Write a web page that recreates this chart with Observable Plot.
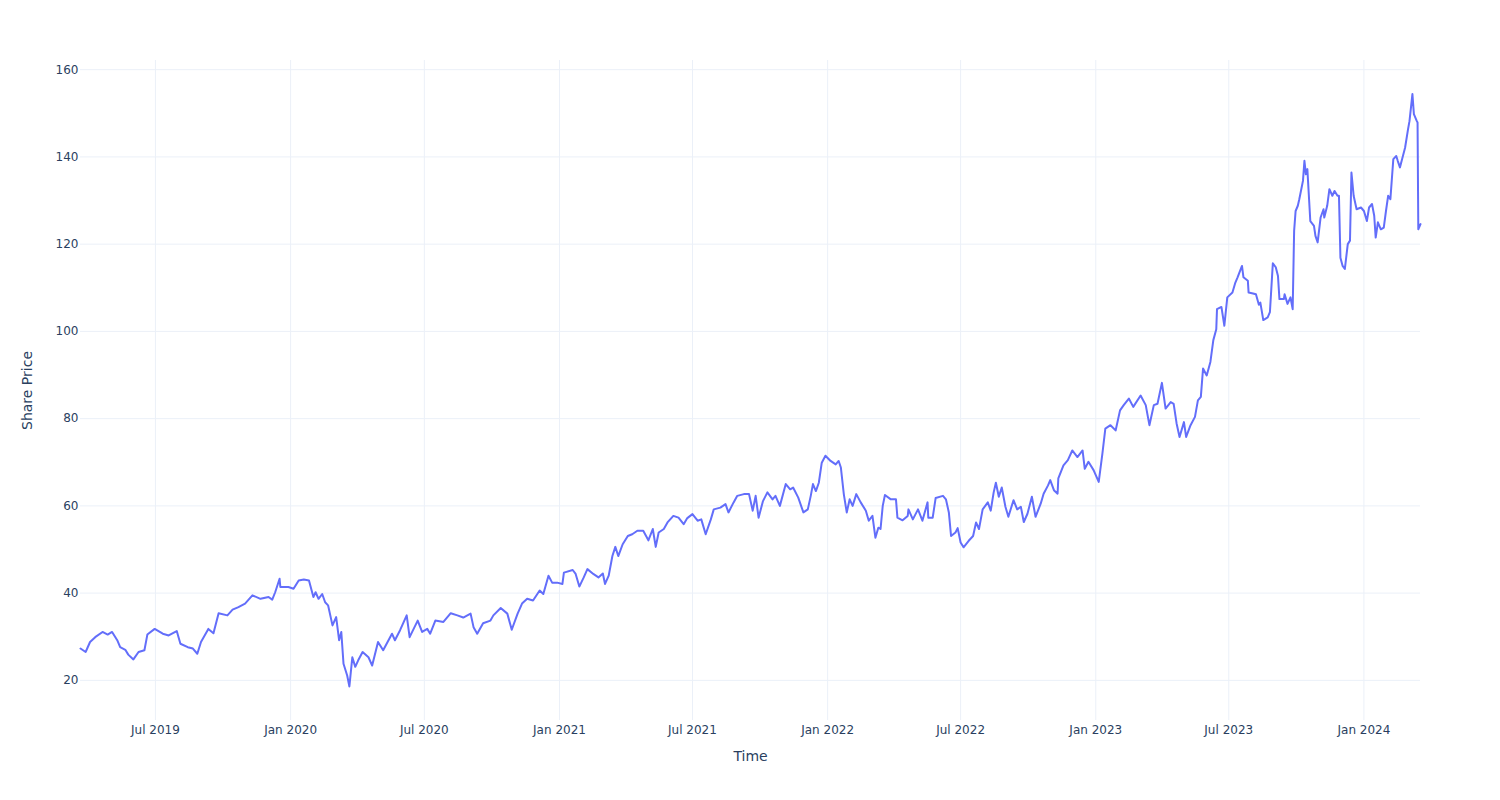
<!DOCTYPE html>
<html>
<head>
<meta charset="utf-8">
<script src="https://cdn.jsdelivr.net/npm/d3@7"></script>
<script src="https://cdn.jsdelivr.net/npm/@observablehq/plot@0.6"></script>
<style>
  html, body { margin: 0; padding: 0; background: #fff; }
  #chart svg { display: block; }
  #chart [aria-label="x-axis label"] text,
  #chart [aria-label="y-axis label"] text { font-size: 14px; }
</style>
</head>
<body>
<div id="chart"></div>
<script>
const dates = [
  "2019-03-21","2019-03-28","2019-04-03","2019-04-10","2019-04-20","2019-04-27","2019-05-03","2019-05-10","2019-05-14","2019-05-21",
  "2019-05-25","2019-06-01","2019-06-08","2019-06-16","2019-06-20","2019-06-30","2019-07-11","2019-07-19","2019-07-30","2019-08-04",
  "2019-08-14","2019-08-21","2019-08-27","2019-09-01","2019-09-11","2019-09-18","2019-09-25","2019-10-07","2019-10-14","2019-10-22",
  "2019-10-31","2019-11-10","2019-11-21","2019-12-02","2019-12-07","2019-12-11","2019-12-17","2019-12-18","2019-12-29","2020-01-05",
  "2020-01-12","2020-01-19","2020-01-26","2020-02-01","2020-02-04","2020-02-08","2020-02-13","2020-02-17","2020-02-21","2020-02-27",
  "2020-03-03","2020-03-07","2020-03-10","2020-03-13","2020-03-18","2020-03-21","2020-03-25","2020-03-29","2020-04-02","2020-04-08",
  "2020-04-16","2020-04-21","2020-04-29","2020-05-06","2020-05-18","2020-05-22","2020-05-29","2020-06-07","2020-06-11","2020-06-22",
  "2020-06-28","2020-07-05","2020-07-09","2020-07-16","2020-07-27","2020-08-06","2020-08-15","2020-08-23","2020-09-02","2020-09-06",
  "2020-09-11","2020-09-19","2020-09-29","2020-10-03","2020-10-13","2020-10-22","2020-10-28","2020-11-05","2020-11-11","2020-11-18",
  "2020-11-26","2020-12-05","2020-12-10","2020-12-17","2020-12-22","2020-12-29","2021-01-05","2021-01-07","2021-01-19","2021-01-23",
  "2021-01-28","2021-02-03","2021-02-08","2021-02-16","2021-02-23","2021-03-01","2021-03-04","2021-03-09","2021-03-14","2021-03-18",
  "2021-03-22","2021-03-28","2021-04-04","2021-04-10","2021-04-17","2021-04-25","2021-05-02","2021-05-08","2021-05-12","2021-05-16",
  "2021-05-23","2021-05-28","2021-06-05","2021-06-12","2021-06-19","2021-06-24","2021-07-01","2021-07-08","2021-07-13","2021-07-19",
  "2021-07-26","2021-07-30","2021-08-08","2021-08-15","2021-08-19","2021-08-26","2021-08-31","2021-09-09","2021-09-16","2021-09-21",
  "2021-09-25","2021-09-29","2021-10-05","2021-10-11","2021-10-18","2021-10-22","2021-10-28","2021-11-05","2021-11-11","2021-11-15",
  "2021-11-22","2021-11-29","2021-12-05","2021-12-09","2021-12-12","2021-12-16","2021-12-20","2021-12-24","2021-12-29","2022-01-05",
  "2022-01-12","2022-01-16","2022-01-19","2022-01-23","2022-01-27","2022-01-31","2022-02-04","2022-02-09","2022-02-15","2022-02-22",
  "2022-02-26","2022-03-03","2022-03-07","2022-03-11","2022-03-14","2022-03-17","2022-03-20","2022-03-28","2022-04-04","2022-04-06",
  "2022-04-13","2022-04-20","2022-04-21","2022-04-27","2022-05-04","2022-05-10","2022-05-17","2022-05-18","2022-05-24","2022-05-28",
  "2022-06-07","2022-06-11","2022-06-15","2022-06-18","2022-06-24","2022-06-27","2022-07-01","2022-07-05","2022-07-12","2022-07-18",
  "2022-07-22","2022-07-26","2022-07-31","2022-08-07","2022-08-11","2022-08-15","2022-08-18","2022-08-22","2022-08-26","2022-08-31",
  "2022-09-04","2022-09-11","2022-09-16","2022-09-21","2022-09-25","2022-09-30","2022-10-06","2022-10-11","2022-10-18","2022-10-22",
  "2022-10-28","2022-10-31","2022-11-05","2022-11-10","2022-11-11","2022-11-18","2022-11-24","2022-11-30","2022-12-07","2022-12-14",
  "2022-12-17","2022-12-22","2022-12-29","2023-01-05","2023-01-10","2023-01-14","2023-01-21","2023-01-28","2023-02-03","2023-02-08",
  "2023-02-15","2023-02-21","2023-03-03","2023-03-10","2023-03-15","2023-03-21","2023-03-26","2023-04-01","2023-04-06","2023-04-13",
  "2023-04-17","2023-04-21","2023-04-25","2023-05-01","2023-05-04","2023-05-10","2023-05-16","2023-05-20","2023-05-24","2023-05-27",
  "2023-06-01","2023-06-06","2023-06-10","2023-06-14","2023-06-15","2023-06-21","2023-06-25","2023-06-29","2023-07-06","2023-07-10",
  "2023-07-13","2023-07-19","2023-07-21","2023-07-27","2023-07-28","2023-08-03","2023-08-07","2023-08-11","2023-08-13","2023-08-17",
  "2023-08-23","2023-08-26","2023-08-30","2023-09-03","2023-09-06","2023-09-08","2023-09-14","2023-09-15","2023-09-19","2023-09-23",
  "2023-09-26","2023-09-28","2023-09-30","2023-10-03","2023-10-05","2023-10-10","2023-10-12","2023-10-14","2023-10-16","2023-10-20",
  "2023-10-25","2023-10-27","2023-10-30","2023-11-03","2023-11-07","2023-11-08","2023-11-12","2023-11-15","2023-11-19","2023-11-22",
  "2023-11-26","2023-11-28","2023-11-30","2023-12-03","2023-12-06","2023-12-10","2023-12-13","2023-12-15","2023-12-18","2023-12-22",
  "2023-12-28","2024-01-01","2024-01-05","2024-01-08","2024-01-12","2024-01-15","2024-01-17","2024-01-20","2024-01-24","2024-01-28",
  "2024-01-31","2024-02-03","2024-02-06","2024-02-10","2024-02-14","2024-02-16","2024-02-19","2024-02-22","2024-02-26","2024-03-01",
  "2024-03-03","2024-03-07","2024-03-09","2024-03-13","2024-03-14","2024-03-15","2024-03-18"
];
const prices = [
  27.3,26.5,28.8,29.9,31.1,30.5,31.1,29.2,27.6,27.0,
  25.9,24.8,26.5,26.9,30.5,31.8,30.7,30.3,31.3,28.4,
  27.6,27.3,26.1,28.8,31.8,30.8,35.4,34.9,36.2,36.8,
  37.6,39.5,38.7,39.1,38.5,40.2,43.3,41.4,41.4,41.0,
  42.9,43.1,42.9,39.1,40.2,38.7,39.8,37.9,37.2,32.6,
  34.5,29.2,31.1,23.8,21.1,18.6,25.3,23.1,24.6,26.5,
  25.3,23.4,28.8,26.9,30.7,29.2,31.5,34.9,29.9,33.7,
  31.1,31.8,30.7,33.7,33.4,35.4,34.9,34.4,35.3,32.2,
  30.7,33.1,33.7,34.9,36.6,35.3,31.6,35.3,37.6,38.7,
  38.3,40.6,39.8,44.0,42.4,42.4,42.1,44.7,45.3,44.4,
  41.5,43.6,45.5,44.4,43.6,44.5,42.1,44.0,48.5,50.6,
  48.5,51.2,53.1,53.5,54.3,54.3,52.1,54.7,50.6,53.9,
  54.7,56.2,57.7,57.3,55.8,57.2,58.1,56.6,56.9,53.5,
  56.9,59.2,59.6,60.4,58.5,60.8,62.3,62.7,62.7,58.9,
  62.3,57.3,61.1,63.1,61.5,62.3,60.0,65.0,63.8,64.2,
  61.9,58.5,59.2,62.3,65.0,63.4,65.3,69.9,71.5,70.3,
  69.5,70.3,68.8,62.7,58.5,61.5,60.0,62.7,60.8,58.9,
  56.6,57.7,52.7,55.0,54.7,60.0,62.5,61.5,61.5,57.3,
  56.7,57.7,59.2,56.9,59.2,56.6,60.8,57.3,57.3,61.8,
  62.3,61.5,58.5,53.1,53.9,54.9,51.6,50.5,52.0,53.1,
  56.2,54.7,59.2,60.8,58.9,63.1,65.3,62.1,64.2,59.8,
  57.5,61.3,59.2,59.8,56.3,58.2,62.1,57.5,60.5,62.8,
  64.7,65.9,63.6,62.8,66.3,69.3,70.5,72.7,71.2,72.7,
  68.5,70.1,68.2,65.5,72.0,77.7,78.5,77.3,81.9,83.1,
  84.6,82.7,85.3,83.1,78.5,83.1,83.4,88.2,82.3,83.8,
  83.4,78.9,75.8,79.2,75.8,78.5,80.4,84.2,85.0,91.5,
  89.9,93.0,98.0,100.5,105.1,105.6,101.3,107.8,108.9,111.2,
  112.4,115.0,112.4,111.6,108.9,108.7,108.5,106.1,106.6,102.6,
  103.2,104.4,115.6,114.7,112.7,107.4,107.4,108.5,106.3,107.8,
  105.1,123.1,127.6,128.8,130.3,134.5,139.1,136.0,137.2,125.3,
  124.2,121.9,120.4,126.1,128.0,126.1,128.8,132.6,131.1,132.2,
  131.1,131.1,116.9,115.0,114.3,120.0,120.8,136.4,131.1,128.0,
  128.4,127.6,125.3,128.4,129.2,126.5,121.5,125.0,123.4,123.8,
  127.6,131.1,130.3,139.5,140.2,139.1,137.6,139.5,142.1,146.3,
  148.2,154.4,149.8,148.2,147.9,123.4,124.6
];
const xTicks = ["2019-07-01","2020-01-01","2020-07-01","2021-01-01","2021-07-01","2022-01-01","2022-07-01","2023-01-01","2023-07-01","2024-01-01"];
const yTicks = [20, 40, 60, 80, 100, 120, 140, 160];
const xTitle = "Time";
const yTitle = "Share Price";

const data = dates.map((d, i) => ({date: new Date(d), price: prices[i]}));
const xTickDates = xTicks.map(d => new Date(d));
const fmt = d3.utcFormat("%b %Y");
const grid = "#ebf0f8";
const ink = "#2a3f5f";

const chart = Plot.plot({
  width: 1500,
  height: 800,
  marginLeft: 80,
  marginRight: 80,
  marginTop: 60,
  marginBottom: 80,
  style: {fontFamily: "'DejaVu Sans', verdana, arial, sans-serif", fontSize: "12px", color: ink, background: "#fff"},
  x: {type: "utc", domain: [new Date(dates[0]), new Date(dates[dates.length - 1])]},
  y: {domain: [10.8, 162.1]},
  marks: [
    Plot.gridX(xTickDates, {stroke: grid, strokeOpacity: 1, strokeWidth: 1}),
    Plot.gridY(yTicks, {stroke: grid, strokeOpacity: 1, strokeWidth: 1}),
    Plot.axisX(xTickDates, {tickSize: 0, tickPadding: 5, tickFormat: fmt, fill: ink,
      label: xTitle, labelAnchor: "center", labelArrow: "none", labelOffset: 40}),
    Plot.axisY(yTicks, {tickSize: 0, tickPadding: 2, fill: ink,
      label: yTitle, labelAnchor: "center", labelArrow: "none", labelOffset: 58}),
    Plot.lineY(data, {x: "date", y: "price", stroke: "#636efa", strokeWidth: 2, curve: "linear"})
  ]
});
document.getElementById("chart").appendChild(chart);
</script>
</body>
</html>
